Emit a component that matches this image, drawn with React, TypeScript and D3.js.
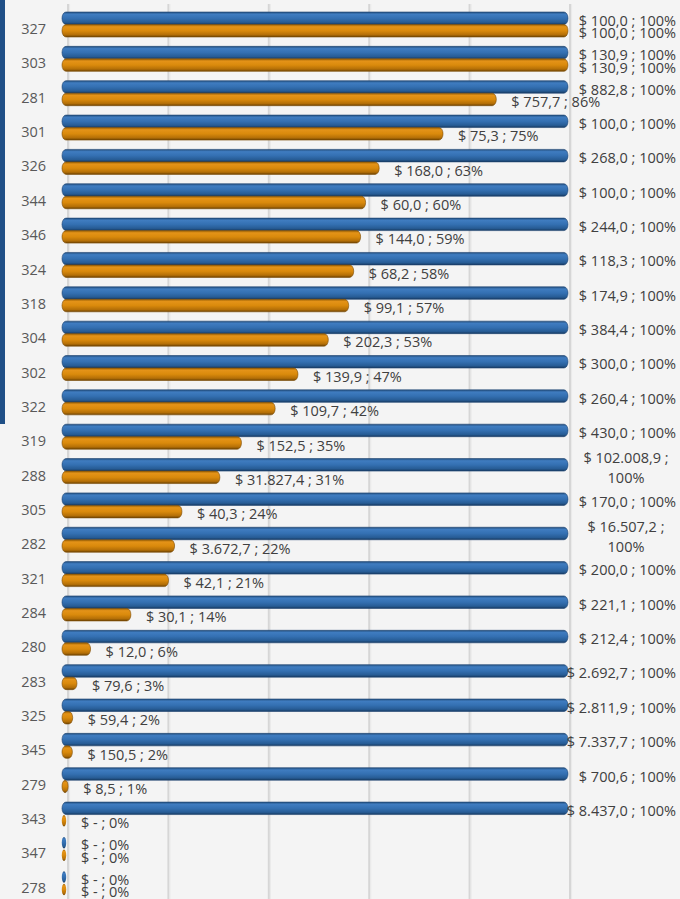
import React from 'react';
import * as d3 from 'd3';

const categories = ['327','303','281','301','326','344','346','324','318','304','302','322','319','288','305','282','321','284','280','283','325','345','279','343','347','278'];
const budget = [100.0, 130.9, 882.8, 100.0, 268.0, 100.0, 244.0, 118.3, 174.9, 384.4, 300.0, 260.4, 430.0, 102008.9, 170.0, 16507.2, 200.0, 221.1, 212.4, 2692.7, 2811.9, 7337.7, 700.6, 8437.0, 0, 0];
const executed = [100.0, 130.9, 757.7, 75.3, 168.0, 60.0, 144.0, 68.2, 99.1, 202.3, 139.9, 109.7, 152.5, 31827.4, 40.3, 3672.7, 42.1, 30.1, 12.0, 79.6, 59.4, 150.5, 8.5, 0, 0, 0];
const gridTicks = [0, 0.2, 0.4, 0.6, 0.8, 1];

const W = 680;
const H = 899;
const FONT = '"Open Sans", "Noto Sans", sans-serif';

const locale = d3.formatLocale({ decimal: ',', thousands: '.', grouping: [3], currency: ['$ ', ''] });
const fmt = locale.format(',.1f');
const money = (v: number) => (v === 0 ? '$ -' : '$ ' + fmt(v));
const pctText = (p: number) => Math.round(p * 100) + '%';

export default function App() {
  const y = d3.scaleBand<string>().domain(categories).range([4.5, 4.5 + 26 * 34.35]).padding(0);
  const gx = d3.scaleLinear().domain([0, 1]).range([68, 570]);
  const bx = d3.scaleLinear().domain([0, 1]).range([62, 568]);
  const barH = 12.5;

  const rows = categories.map((c, i) => {
    const b = budget[i];
    const e = executed[i];
    const pb = b > 0 ? 1 : 0;
    const pe = b > 0 ? e / b : 0;
    return { c, b, e, pb, pe, y0: y(c) as number };
  });

  const bar = (key: string, x0: number, x1: number, top: number, grad: string, stroke: string) => {
    if (x1 - x0 < 4) {
      return (
        <ellipse key={key} cx={x0 + 2} cy={top + barH / 2} rx={2.2} ry={barH / 2 - 0.5} fill={`url(#${grad})`} />
      );
    }
    return (
      <rect key={key} x={x0} y={top} width={x1 - x0} height={barH} rx={4} ry={barH / 2}
        fill={`url(#${grad})`} stroke={stroke} strokeWidth={0.6} />
    );
  };

  return (
    <svg width={W} height={H} style={{ position: 'absolute', left: 0, top: 0 }} xmlns="http://www.w3.org/2000/svg">
      <defs>
        <linearGradient id="gBlue" x1="0" y1="0" x2="0" y2="1">
          <stop offset="0" stopColor="#24507f" />
          <stop offset="0.18" stopColor="#3f7cc0" />
          <stop offset="0.5" stopColor="#3470b2" />
          <stop offset="0.82" stopColor="#275c95" />
          <stop offset="1" stopColor="#173a61" />
        </linearGradient>
        <linearGradient id="gOrange" x1="0" y1="0" x2="0" y2="1">
          <stop offset="0" stopColor="#9a6106" />
          <stop offset="0.18" stopColor="#e49318" />
          <stop offset="0.5" stopColor="#da8a0c" />
          <stop offset="0.82" stopColor="#b46f07" />
          <stop offset="1" stopColor="#6e4403" />
        </linearGradient>
      </defs>
      <rect x={0} y={0} width={W} height={H} fill="#f4f4f4" />
      <rect x={0} y={0} width={5} height={424} fill="#1f4f86" />
      {gridTicks.map((t) => (
        <g key={t}>
          <line x1={gx(t)} x2={gx(t)} y1={4} y2={H} stroke="#d6d6d6" strokeWidth={2} />
          <line x1={gx(t) + 1.6} x2={gx(t) + 1.6} y1={4} y2={H} stroke="#e9e9e9" strokeWidth={1} />
        </g>
      ))}
      {rows.map((r) => (
        <text key={'c' + r.c} x={46} y={r.y0 + 24.5} dy="0.35em" textAnchor="end" fontFamily={FONT} fontSize={14.5} fill="#595959">
          {r.c}
        </text>
      ))}
      {rows.map((r) => (
        <g key={'b' + r.c}>
          {bar('bb' + r.c, bx(0), bx(r.pb), r.y0 + 7.5, 'gBlue', '#1b4270')}
          {bar('bo' + r.c, bx(0), bx(r.pe), r.y0 + 7.5 + barH, 'gOrange', '#7a4a04')}
        </g>
      ))}
      {rows.map((r) => {
        const blueC = r.y0 + 7.5 + barH / 2;
        const orC = blueC + barH;
        const blueLabel = `${money(r.b)} ; ${pctText(r.pb)}`;
        const orLabel = `${money(r.e)} ; ${pctText(r.pe)}`;
        const txt = { fontFamily: FONT, fontSize: 14.5, fill: '#404040' } as const;
        let blueEl;
        if (r.pb === 0) {
          blueEl = <text x={bx(0) + 19} y={blueC + 2.5} dy="0.35em" {...txt}>{blueLabel}</text>;
        } else if (r.b >= 10000) {
          blueEl = (
            <text x={626} textAnchor="middle" {...txt}>
              <tspan x={626} y={blueC - 7} dy="0.35em">{`${money(r.b)} ;`}</tspan>
              <tspan x={626} y={blueC + 13.5} dy="0.35em">{pctText(r.pb)}</tspan>
            </text>
          );
        } else {
          blueEl = <text x={676} y={blueC + 2.5} dy="0.35em" textAnchor="end" {...txt}>{blueLabel}</text>;
        }
        const orEnd = r.pe === 0 ? bx(0) + 4 : bx(r.pe);
        const orEl = r.pe >= 0.995
          ? <text x={676} y={orC + 2.5} dy="0.35em" textAnchor="end" {...txt}>{orLabel}</text>
          : <text x={orEnd + 15} y={orC + 2.5} dy="0.35em" {...txt}>{orLabel}</text>;
        return (
          <g key={'l' + r.c}>
            {blueEl}
            {orEl}
          </g>
        );
      })}
    </svg>
  );
}
